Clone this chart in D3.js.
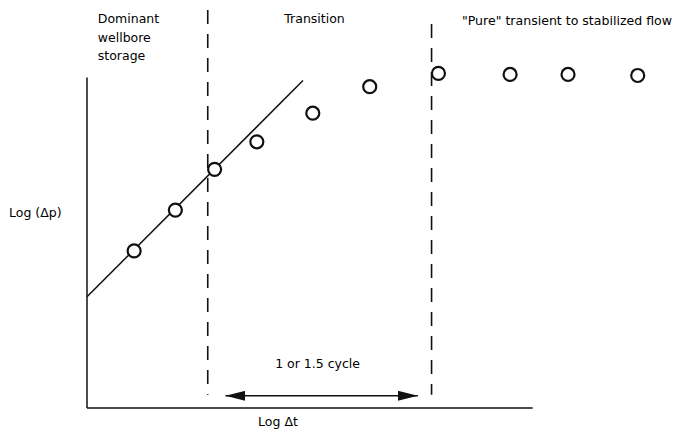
<!DOCTYPE html>
<html>
<head>
<meta charset="utf-8">
<script src="https://cdn.jsdelivr.net/npm/d3@7"></script>
<style>
  body { margin: 0; background: #fff; }
  text { font-family: "DejaVu Sans", sans-serif; fill: #000; }
</style>
</head>
<body>
<script>
// Dimensions
const width = 676;
const height = 439;

// data, in log cycles (x = log dt, y = log dp)
const pointX = [0.48, 0.90, 1.30, 1.73, 2.30, 2.88, 3.58, 4.31, 4.90, 5.61];
const pointY = [1.54, 1.94, 2.34, 2.61, 2.89, 3.15, 3.28, 3.27, 3.27, 3.26];
const lineX = [0, 2.20];      // straight unit-slope line
const lineY = [1.09, 3.21];
const boundaries = [1.23, 3.51]; // dashed region limits
const arrowX = [1.41, 3.37];
const arrowY = 0.12;
const regionLabels = [
  { x: 0.11, base: 23, lines: ["Dominant", "wellbore", "storage"] },
  { x: 2.01, base: 23, lines: ["Transition"] },
  { x: 3.82, base: 25, lines: ["\"Pure\" transient to stabilized flow"], fit: 210 }
];

const x = d3.scaleLinear().domain([0, 6]).range([87, 676]);
const y = d3.scaleLinear().domain([0, 4]).range([408, 0]);

const svg = d3.select("body").append("svg")
  .attr("width", width)
  .attr("height", height);

// axes (just the two lines, no ticks)
svg.append("line")
  .attr("x1", x(0)).attr("x2", x(0))
  .attr("y1", y(0)).attr("y2", y(3.24))
  .attr("stroke", "#111").attr("stroke-width", 1.5);
svg.append("line")
  .attr("x1", x(0)).attr("x2", x(4.54))
  .attr("y1", y(0)).attr("y2", y(0))
  .attr("stroke", "#111").attr("stroke-width", 1.5);

// dashed boundaries
svg.selectAll(".bound")
  .data(boundaries)
  .join("line")
  .attr("class", "bound")
  .attr("x1", d => x(d)).attr("x2", d => x(d))
  .attr("y1", (d, i) => i === 0 ? 10 : 24)
  .attr("y2", y(0.13))
  .attr("stroke", "#111")
  .attr("stroke-width", 1.6)
  .attr("stroke-dasharray", "14,10");

// straight line
svg.append("line")
  .attr("x1", x(lineX[0])).attr("y1", y(lineY[0]))
  .attr("x2", x(lineX[1])).attr("y2", y(lineY[1]))
  .attr("stroke", "#111").attr("stroke-width", 1.5);

// points
svg.selectAll(".pt")
  .data(d3.zip(pointX, pointY))
  .join("circle")
  .attr("class", "pt")
  .attr("cx", d => x(d[0]))
  .attr("cy", d => y(d[1]))
  .attr("r", 6.5)
  .attr("fill", "#fff")
  .attr("stroke", "#111")
  .attr("stroke-width", 2.2);

// arrow
const defs = svg.append("defs");
["start", "end"].forEach(k => {
  defs.append("marker")
    .attr("id", "arr-" + k)
    .attr("viewBox", "0 0 20 10")
    .attr("refX", k === "end" ? 20 : 0)
    .attr("refY", 5)
    .attr("markerWidth", 20)
    .attr("markerHeight", 10)
    .attr("markerUnits", "userSpaceOnUse")
    .attr("orient", "auto")
    .append("path")
    .attr("d", k === "end" ? "M0,0L20,5L0,10Z" : "M20,0L0,5L20,10Z")
    .attr("fill", "#111");
});
svg.append("line")
  .attr("x1", x(arrowX[0])).attr("x2", x(arrowX[1]))
  .attr("y1", y(arrowY)).attr("y2", y(arrowY))
  .attr("stroke", "#111").attr("stroke-width", 1.3)
  .attr("marker-start", "url(#arr-start)")
  .attr("marker-end", "url(#arr-end)");

// region labels
regionLabels.forEach(r => {
  const t = svg.append("text")
    .attr("x", x(r.x))
    .attr("y", r.base)
    .style("font-size", "12.5px");
  t.selectAll("tspan")
    .data(r.lines)
    .join("tspan")
    .attr("x", x(r.x))
    .attr("dy", (d, i) => i === 0 ? 0 : 18.5)
    .text(d => d);
  // grow the font until the label spans the width seen in the figure
  if (r.fit) {
    const w = t.node().getComputedTextLength();
    t.style("font-size", (12.5 * r.fit / w).toFixed(2) + "px");
  }
});

svg.append("text")
  .attr("x", 9).attr("y", 217)
  .style("font-size", "12.5px")
  .text("Log (Δp)");

svg.append("text")
  .attr("x", (x(arrowX[0]) + x(arrowX[1])) / 2 - 4)
  .attr("y", 368)
  .attr("text-anchor", "middle")
  .style("font-size", "12.5px")
  .text("1 or 1.5 cycle");

svg.append("text")
  .attr("x", 278).attr("y", 426)
  .attr("text-anchor", "middle")
  .style("font-size", "12.5px")
  .text("Log Δt");
</script>
</body>
</html>
